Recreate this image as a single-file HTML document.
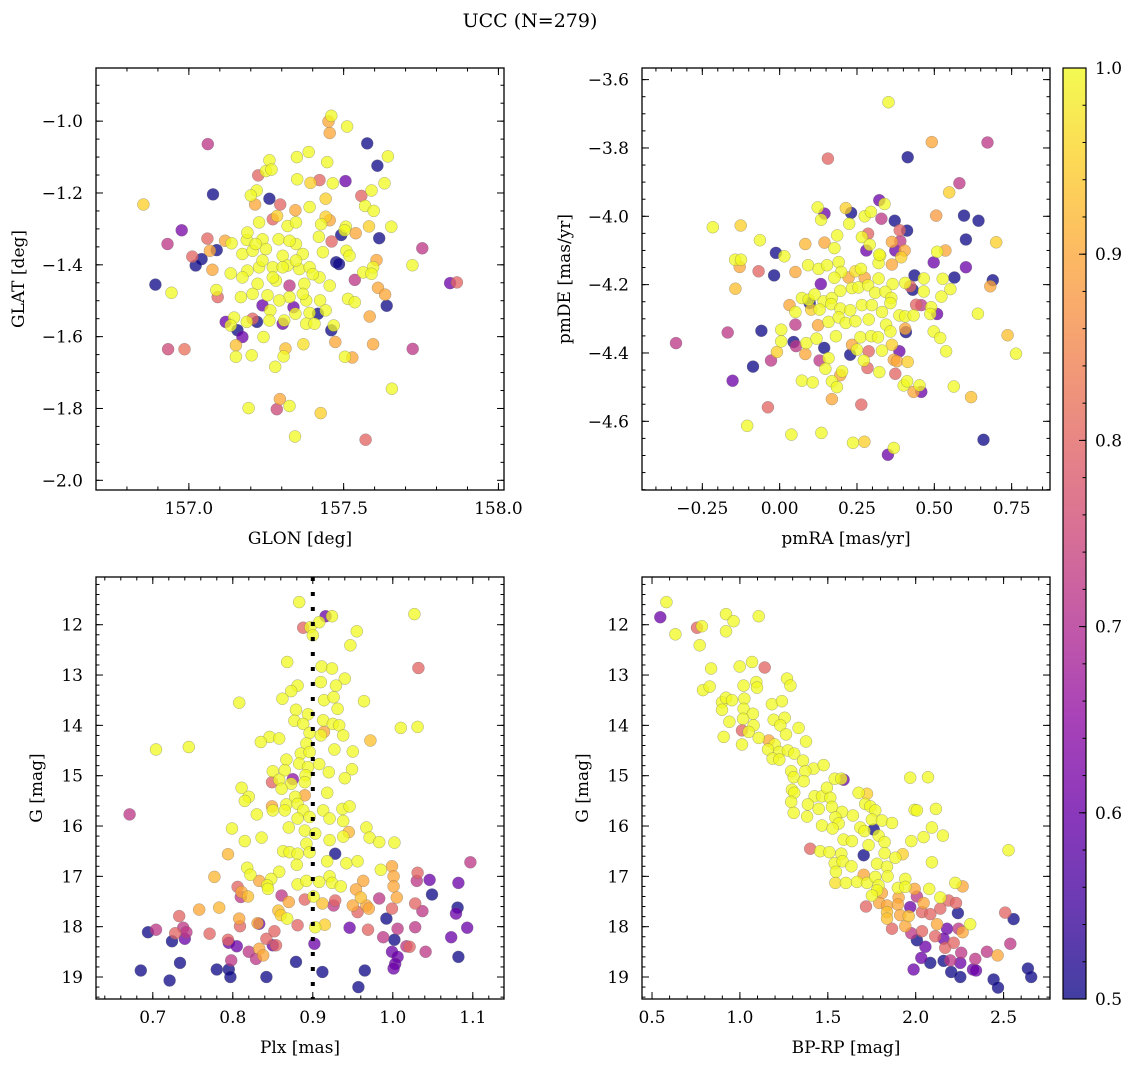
<!DOCTYPE html>
<html><head><meta charset="utf-8"><style>
body{margin:0;background:#fff}
svg{display:block;font-family:"DejaVu Serif","Liberation Serif",serif}
</style></head><body>
<svg id="fig" width="1136" height="1067" viewBox="0 0 1136 1067" xmlns="http://www.w3.org/2000/svg">
<defs><linearGradient id="plasma" x1="0" y1="1" x2="0" y2="0">
<stop offset="0" stop-color="#0d0887"/><stop offset="0.1" stop-color="#41049d"/><stop offset="0.2" stop-color="#6a00a8"/><stop offset="0.3" stop-color="#8f0da4"/><stop offset="0.4" stop-color="#b12a90"/><stop offset="0.5" stop-color="#cc4778"/><stop offset="0.6" stop-color="#e16462"/><stop offset="0.7" stop-color="#f2844b"/><stop offset="0.8" stop-color="#fca636"/><stop offset="0.9" stop-color="#fcce25"/><stop offset="1" stop-color="#f0f921"/>
</linearGradient></defs>
<text x="530" y="27" font-size="19" text-anchor="middle">UCC (N=279)</text>
</svg>
<script>
// ---- data: [x, y, membership probability] ----
const posStars=[[157.460,-0.985,1],[157.451,-1.001,.9],[157.455,-1.033,.9],[157.511,-1.015,1],[157.576,-1.062,.5],[157.061,-1.064,.72],[157.609,-1.124,.5],[157.643,-1.098,1],[157.260,-1.109,1],[157.349,-1.100,1],[157.387,-1.086,1],[157.447,-1.114,1],[157.224,-1.151,.8],[157.249,-1.139,1],[157.267,-1.135,1],[157.350,-1.162,1],[157.393,-1.172,.95],[157.422,-1.164,.8],[157.465,-1.173,1],[157.506,-1.167,.6],[157.632,-1.173,1],[157.078,-1.204,.5],[156.853,-1.232,.95],[157.219,-1.193,1],[157.200,-1.207,1],[157.260,-1.216,.5],[157.295,-1.232,.8],[157.214,-1.232,.9],[157.344,-1.248,.9],[157.390,-1.239,1],[157.442,-1.216,.95],[157.557,-1.208,.8],[157.590,-1.193,1],[157.569,-1.236,1],[157.597,-1.250,1],[157.285,-1.264,.95],[157.442,-1.266,.95],[157.455,-1.276,.9],[157.227,-1.282,1],[157.319,-1.292,1],[157.346,-1.282,1],[157.271,-1.273,.8],[157.427,-1.287,1],[157.507,-1.294,1],[157.582,-1.293,.95],[157.654,-1.294,1],[156.977,-1.304,.62],[156.931,-1.342,.72],[157.060,-1.327,.8],[157.117,-1.333,.9],[157.138,-1.340,1],[157.187,-1.331,1],[157.238,-1.329,1],[157.189,-1.310,1],[157.290,-1.329,1],[157.346,-1.342,1],[157.420,-1.322,1],[157.492,-1.317,.5],[157.461,-1.335,.8],[157.539,-1.312,.9],[157.503,-1.304,1],[157.615,-1.326,.5],[157.754,-1.354,.72],[157.090,-1.359,.5],[157.068,-1.361,.9],[157.011,-1.377,.8],[157.041,-1.384,.5],[157.022,-1.402,.5],[157.173,-1.370,1],[157.206,-1.361,1],[157.249,-1.356,1],[157.303,-1.375,1],[157.368,-1.370,1],[157.433,-1.365,1],[157.476,-1.393,.5],[157.485,-1.398,.5],[157.509,-1.361,1],[157.519,-1.375,1],[157.606,-1.387,.9],[157.595,-1.407,1],[157.722,-1.401,1],[157.076,-1.414,.9],[157.135,-1.424,1],[157.189,-1.416,1],[157.227,-1.407,1],[157.271,-1.407,1],[157.319,-1.402,1],[157.357,-1.412,1],[157.390,-1.407,1],[157.422,-1.435,1],[157.563,-1.421,1],[157.590,-1.425,1],[156.892,-1.455,.5],[156.944,-1.478,1],[157.536,-1.442,.72],[157.844,-1.451,.6],[157.866,-1.449,.8],[157.173,-1.435,1],[157.222,-1.453,1],[157.281,-1.444,1],[157.325,-1.458,.72],[157.373,-1.453,1],[157.455,-1.458,1],[157.611,-1.464,.9],[157.634,-1.483,.9],[157.089,-1.470,1],[157.093,-1.490,.8],[157.168,-1.490,1],[157.206,-1.481,1],[157.254,-1.485,1],[157.325,-1.490,1],[157.379,-1.499,1],[157.424,-1.499,1],[157.514,-1.495,1],[157.536,-1.504,1],[157.639,-1.514,.5],[157.238,-1.513,.6],[157.263,-1.527,1],[157.338,-1.518,.6],[157.344,-1.536,1],[157.390,-1.534,1],[157.417,-1.536,.5],[157.442,-1.527,1],[157.584,-1.544,.9],[157.119,-1.559,.6],[157.146,-1.547,1],[157.135,-1.569,1],[157.157,-1.582,.5],[157.173,-1.601,.6],[157.187,-1.559,1],[157.206,-1.550,.8],[157.220,-1.559,.5],[157.260,-1.555,1],[157.303,-1.564,.6],[157.308,-1.555,1],[157.379,-1.564,1],[157.406,-1.564,1],[157.460,-1.582,.5],[157.468,-1.569,1],[157.241,-1.601,1],[157.152,-1.624,.93],[157.152,-1.656,1],[157.203,-1.652,1],[157.312,-1.633,.93],[157.306,-1.655,1],[157.370,-1.621,.97],[157.473,-1.615,.9],[157.595,-1.621,.9],[157.504,-1.656,1],[157.528,-1.658,.9],[156.933,-1.635,.75],[156.986,-1.635,.82],[157.723,-1.634,.72],[157.279,-1.684,1],[157.656,-1.745,1],[157.294,-1.774,.9],[157.284,-1.802,.75],[157.325,-1.793,1],[157.193,-1.799,1],[157.426,-1.813,.95],[157.343,-1.878,1],[157.571,-1.887,.8],[157.303,-1.407,1],[157.346,-1.388,1],[157.271,-1.435,1],[157.400,-1.426,1],[157.238,-1.388,1],[157.368,-1.481,1],[157.292,-1.499,1],[157.216,-1.342,1],[157.325,-1.333,1]];
const pmStars=[[0.352,-3.666,1],[0.492,-3.783,.9],[0.672,-3.784,.72],[0.414,-3.827,.5],[0.156,-3.831,.8],[0.581,-3.903,.72],[0.548,-3.930,.95],[0.322,-3.953,.6],[0.339,-3.964,1],[0.123,-3.974,1],[0.145,-3.992,.6],[0.214,-3.976,.95],[0.231,-3.990,.5],[0.225,-4.022,1],[0.134,-4.010,1],[0.275,-4.000,1],[0.295,-3.987,1],[0.329,-4.007,.72],[0.372,-4.013,.5],[0.412,-4.042,.5],[0.388,-4.041,.8],[0.506,-3.998,.88],[0.596,-3.998,.5],[0.643,-4.013,.5],[0.602,-4.068,.5],[0.700,-4.076,.95],[-0.216,-4.032,1],[-0.126,-4.027,.95],[-0.064,-4.070,1],[0.083,-4.081,.92],[0.145,-4.077,.9],[0.177,-4.093,1],[0.186,-4.056,1],[0.266,-4.061,1],[0.286,-4.051,.8],[0.291,-4.083,1],[0.280,-4.100,.6],[0.363,-4.075,.9],[0.390,-4.073,.72],[0.404,-4.100,.9],[0.374,-4.100,.6],[0.325,-4.115,1],[0.393,-4.120,.95],[0.363,-4.141,.9],[0.509,-4.104,1],[0.536,-4.100,.9],[0.498,-4.135,.6],[0.602,-4.149,.6],[0.565,-4.179,.5],[0.689,-4.187,.5],[0.681,-4.205,.9],[0.641,-4.285,1],[0.737,-4.348,.93],[0.764,-4.402,1],[-0.012,-4.107,.5],[0.015,-4.117,1],[-0.144,-4.127,1],[-0.125,-4.127,1],[-0.129,-4.148,.9],[-0.068,-4.161,.8],[-0.018,-4.173,.5],[0.051,-4.163,.9],[0.092,-4.143,1],[0.126,-4.154,1],[0.153,-4.143,1],[0.191,-4.134,1],[0.199,-4.163,1],[0.245,-4.161,.97],[0.263,-4.154,1],[0.320,-4.137,1],[0.322,-4.112,1],[-0.143,-4.212,.93],[0.133,-4.198,.6],[0.177,-4.180,1],[0.223,-4.179,.9],[0.275,-4.180,.9],[0.320,-4.182,1],[0.365,-4.198,1],[0.406,-4.195,1],[0.436,-4.173,.5],[0.466,-4.182,1],[0.527,-4.183,1],[0.552,-4.213,1],[0.523,-4.235,1],[0.466,-4.220,1],[0.430,-4.215,.5],[0.422,-4.205,.8],[0.072,-4.239,1],[0.094,-4.244,1],[0.113,-4.229,1],[0.142,-4.249,1],[0.169,-4.239,1],[0.196,-4.218,1],[0.234,-4.210,1],[0.255,-4.208,1],[0.286,-4.202,1],[0.309,-4.224,1],[0.342,-4.221,1],[0.361,-4.239,1],[0.032,-4.260,.9],[0.051,-4.280,1],[0.097,-4.254,.5],[0.102,-4.273,.95],[0.129,-4.273,1],[0.167,-4.257,1],[0.196,-4.270,1],[0.228,-4.275,1],[0.266,-4.260,1],[0.298,-4.260,1],[0.331,-4.280,1],[0.358,-4.254,1],[0.441,-4.259,.8],[0.458,-4.260,.72],[0.490,-4.266,1],[0.509,-4.286,.6],[0.487,-4.286,1],[0.387,-4.290,1],[0.406,-4.293,1],[0.433,-4.290,1],[-0.168,-4.340,.72],[-0.335,-4.371,.72],[-0.059,-4.335,.5],[0.005,-4.332,1],[0.051,-4.317,.72],[0.124,-4.319,.9],[0.158,-4.309,1],[0.191,-4.296,1],[0.214,-4.312,1],[0.245,-4.307,1],[0.288,-4.302,1],[0.344,-4.317,1],[0.358,-4.337,1],[0.408,-4.339,.5],[0.406,-4.329,.9],[0.498,-4.337,1],[0.519,-4.356,1],[0.005,-4.366,1],[0.045,-4.368,.5],[0.053,-4.380,.72],[0.086,-4.371,1],[0.119,-4.358,1],[0.083,-4.403,.9],[-0.009,-4.397,.95],[0.144,-4.385,.5],[0.182,-4.351,1],[0.234,-4.376,.9],[0.261,-4.354,1],[0.296,-4.351,1],[0.318,-4.354,1],[0.363,-4.376,.95],[0.387,-4.395,.6],[0.158,-4.415,1],[0.228,-4.405,.5],[0.250,-4.390,1],[0.288,-4.395,.8],[0.331,-4.393,1],[0.272,-4.422,1],[0.369,-4.420,.9],[0.379,-4.424,.9],[0.414,-4.426,.95],[0.538,-4.395,1],[-0.086,-4.440,.5],[-0.028,-4.422,.72],[0.129,-4.422,.72],[0.148,-4.446,1],[0.202,-4.454,1],[0.284,-4.444,.8],[0.322,-4.456,1],[0.374,-4.461,.8],[-0.152,-4.481,.6],[0.072,-4.481,1],[0.107,-4.486,1],[0.169,-4.483,1],[0.185,-4.500,1],[0.196,-4.465,.9],[0.401,-4.495,1],[0.412,-4.483,1],[0.433,-4.514,.9],[0.458,-4.514,.6],[0.452,-4.495,1],[0.563,-4.498,1],[0.619,-4.529,.93],[0.169,-4.535,.9],[0.264,-4.551,.8],[-0.038,-4.559,.8],[-0.105,-4.613,1],[0.038,-4.639,1],[0.135,-4.634,1],[0.237,-4.663,1],[0.274,-4.660,.95],[0.369,-4.678,1],[0.350,-4.698,.6],[0.659,-4.654,.5]];
const plxStars=[[0.883,11.55,1],[1.027,11.79,1],[0.916,11.83,.6],[0.924,11.83,1],[0.888,12.06,.8],[0.897,12.05,1],[0.908,11.95,1],[0.900,12.21,1],[0.955,12.13,1],[0.947,12.41,1],[1.032,12.86,.8],[0.868,12.74,1],[0.911,12.83,1],[0.924,12.87,1],[0.940,13.07,1],[0.910,13.14,1],[0.929,13.21,1],[0.881,13.21,1],[0.873,13.32,1],[0.862,13.47,1],[0.808,13.55,1],[0.914,13.50,1],[0.926,13.44,1],[0.964,13.52,1],[0.931,13.67,1],[0.879,13.69,1],[0.894,13.78,1],[0.877,13.91,1],[0.888,13.97,1],[0.913,13.90,1],[0.925,13.97,1],[0.933,14.00,1],[1.010,14.05,1],[1.031,14.03,1],[0.896,14.15,1],[0.914,14.13,.9],[0.910,14.20,1],[0.938,14.20,1],[0.846,14.23,1],[0.858,14.26,1],[0.835,14.33,1],[0.972,14.30,.93],[0.704,14.48,1],[0.745,14.43,1],[0.892,14.36,1],[0.927,14.48,1],[0.950,14.52,1],[0.885,14.56,1],[0.896,14.53,1],[0.867,14.68,1],[0.883,14.76,1],[0.894,14.83,1],[0.908,14.77,1],[0.920,14.93,1],[0.949,14.87,1],[0.850,14.91,1],[0.865,14.89,1],[0.891,14.99,1],[0.940,15.05,1],[0.858,15.08,1],[0.875,15.07,.65],[0.849,15.13,.8],[0.873,15.16,1],[0.890,15.13,1],[0.811,15.24,1],[0.861,15.26,1],[0.918,15.34,1],[0.820,15.42,1],[0.815,15.50,1],[0.878,15.42,1],[0.890,15.39,.9],[0.867,15.57,1],[0.881,15.56,1],[0.849,15.61,.9],[0.850,15.69,1],[0.865,15.69,1],[0.888,15.69,1],[0.913,15.69,1],[0.937,15.66,1],[0.946,15.61,1],[0.671,15.77,.72],[0.830,15.77,1],[0.881,15.85,1],[0.896,15.82,1],[0.921,15.85,1],[0.938,15.90,1],[0.870,16.03,1],[0.799,16.05,1],[0.890,16.09,1],[0.903,16.15,1],[0.945,16.12,.92],[0.938,16.21,1],[0.967,16.03,1],[0.971,16.23,1],[0.836,16.23,1],[0.815,16.30,1],[0.983,16.32,1],[1.002,16.33,1],[0.892,16.35,1],[0.921,16.28,1],[0.928,16.55,.5],[0.863,16.50,1],[0.871,16.52,1],[0.881,16.55,1],[0.794,16.56,.92],[0.896,16.52,1],[0.918,16.70,1],[0.942,16.74,1],[0.956,16.70,1],[0.880,16.77,1],[0.818,16.83,1],[0.822,16.97,1],[0.858,16.91,1],[0.985,16.87,1],[0.999,16.80,.9],[1.001,17.00,.9],[0.777,17.01,.92],[0.833,17.09,.9],[0.848,17.05,1],[0.843,17.18,1],[0.844,17.25,1],[0.881,17.16,1],[0.892,17.09,1],[0.908,17.11,1],[0.921,17.00,1],[0.924,17.13,1],[0.935,17.20,1],[0.963,17.09,.9],[1.031,16.93,.8],[1.030,17.09,.72],[1.046,17.07,.6],[1.082,17.13,.6],[1.097,16.72,.72],[1.001,17.20,.9],[0.806,17.21,.8],[0.811,17.31,.9],[0.819,17.40,.93],[0.810,17.41,.72],[0.861,17.38,.72],[0.890,17.46,.8],[0.901,17.40,1],[0.912,17.54,.93],[0.928,17.48,.8],[0.926,17.58,.72],[0.954,17.26,.9],[0.960,17.42,.93],[0.950,17.58,.9],[0.956,17.71,.8],[0.967,17.58,.9],[0.970,17.64,.9],[0.983,17.44,.72],[1.005,17.42,.9],[0.999,17.64,.8],[1.028,17.54,.8],[1.037,17.69,.72],[1.049,17.36,.5],[1.081,17.62,.5],[1.079,17.74,.6],[0.870,17.51,.9],[0.857,17.68,.93],[0.860,17.77,.95],[0.868,17.84,1],[0.758,17.66,.9],[0.783,17.62,.92],[0.733,17.79,.8],[0.808,17.84,.9],[0.809,17.99,.8],[0.831,17.93,.9],[0.833,17.94,.6],[0.903,18.01,1],[0.915,17.96,.95],[0.881,17.97,.8],[0.992,17.84,.5],[0.704,18.06,.72],[0.694,18.11,.5],[0.728,18.13,.8],[0.738,18.02,.72],[0.742,18.11,.72],[0.740,18.24,.6],[0.724,18.29,.5],[0.771,18.14,.8],[0.794,18.26,.8],[0.795,18.32,.6],[0.805,18.39,.6],[0.842,18.24,.8],[0.852,18.09,.8],[0.850,18.37,.6],[0.854,18.37,.8],[0.833,18.44,.9],[0.838,18.57,.9],[0.820,18.50,.72],[0.829,18.64,.72],[0.798,18.67,.72],[0.902,18.34,.6],[0.946,18.02,.6],[0.969,18.06,.8],[0.988,18.21,.72],[1.002,18.26,.5],[1.006,18.04,.72],[1.017,18.39,.72],[1.021,18.40,.8],[1.028,18.01,.72],[1.041,18.50,.72],[1.073,18.21,.6],[1.093,18.02,.6],[0.999,18.50,.6],[1.006,18.60,.6],[1.003,18.74,.6],[1.001,18.83,.6],[1.082,18.60,.5],[0.685,18.87,.5],[0.721,19.07,.5],[0.734,18.72,.5],[0.780,18.85,.5],[0.795,18.85,.5],[0.797,19.00,.5],[0.842,19.00,.5],[0.879,18.70,.5],[0.912,18.90,.5],[0.965,18.87,.5],[0.957,19.20,.5]];
const cmdStars=[[0.547,11.85,.6],[0.582,11.55,1],[0.633,12.19,1],[0.756,12.06,.8],[0.784,12.03,1],[0.771,12.41,1],[0.921,11.79,1],[0.964,11.93,1],[0.921,12.13,1],[1.107,11.83,1],[0.836,12.87,1],[0.999,12.83,1],[1.069,12.74,1],[1.141,12.85,.8],[0.790,13.30,1],[0.828,13.23,1],[1.021,13.21,1],[1.093,13.14,1],[1.097,13.25,1],[1.268,13.07,1],[1.287,13.21,1],[0.898,13.54,1],[0.921,13.45,1],[0.955,13.50,1],[1.025,13.47,1],[1.182,13.58,1],[1.239,13.52,1],[0.898,13.69,1],[1.021,13.67,1],[1.074,13.77,1],[0.940,13.93,1],[1.018,13.87,1],[1.078,14.00,1],[1.192,13.89,1],[1.255,13.85,1],[1.230,14.00,1],[1.334,14.05,1],[1.012,14.10,.8],[1.050,14.13,1],[0.908,14.23,1],[1.107,14.25,1],[1.262,14.18,1],[1.012,14.38,1],[1.164,14.30,.9],[1.198,14.38,1],[1.376,14.32,1],[1.160,14.48,1],[1.224,14.53,1],[1.273,14.50,1],[1.309,14.56,1],[1.186,14.66,1],[1.224,14.68,1],[1.359,14.70,1],[1.419,14.86,1],[1.476,14.79,1],[1.292,14.91,1],[1.372,14.91,1],[1.306,15.03,1],[1.363,15.11,1],[1.539,15.06,1],[1.590,15.08,.6],[1.577,15.06,1],[1.969,15.04,1],[2.070,15.03,1],[1.296,15.28,1],[1.309,15.34,1],[1.425,15.41,1],[1.467,15.41,1],[1.495,15.24,1],[1.514,15.44,1],[1.675,15.34,1],[1.723,15.36,.95],[1.292,15.52,1],[1.387,15.57,1],[1.448,15.66,1],[1.524,15.62,1],[1.581,15.72,1],[1.643,15.79,1],[1.713,15.56,1],[1.742,15.61,1],[1.770,15.69,1],[1.994,15.68,1],[2.115,15.66,1],[2.007,15.69,1],[1.306,15.74,1],[1.382,15.81,1],[1.543,15.83,1],[1.562,15.95,1],[1.751,15.87,1],[1.808,15.89,1],[1.865,15.94,1],[1.467,15.99,1],[1.527,16.05,1],[1.685,16.03,1],[1.709,16.10,1],[1.761,16.07,.5],[1.789,16.19,1],[2.092,16.03,1],[2.155,16.19,1],[2.045,16.22,1],[1.975,16.30,1],[1.590,16.27,1],[1.637,16.30,1],[1.823,16.32,1],[1.732,16.38,1],[1.400,16.45,.8],[1.457,16.50,1],[1.509,16.52,1],[1.577,16.55,1],[1.704,16.58,.5],[1.823,16.54,1],[1.884,16.63,1],[1.926,16.56,.95],[2.528,16.48,1],[1.539,16.74,1],[1.584,16.70,1],[1.634,16.80,1],[1.780,16.75,1],[1.837,16.81,1],[2.092,16.72,1],[1.546,16.91,1],[1.543,17.13,.97],[1.603,17.13,1],[1.666,17.11,1],[1.704,16.97,.9],[1.723,17.13,1],[1.770,17.01,1],[1.789,17.18,1],[1.840,17.00,1],[1.780,17.28,1],[1.899,17.23,1],[1.941,17.05,1],[1.941,17.21,1],[1.994,17.25,.9],[2.077,17.25,1],[2.225,17.13,1],[2.267,17.20,.9],[1.751,17.38,1],[1.808,17.33,.9],[1.903,17.42,.9],[2.007,17.40,.72],[2.140,17.42,1],[2.187,17.48,.8],[1.717,17.60,.8],[1.793,17.53,.9],[1.837,17.58,.9],[1.899,17.56,.9],[1.969,17.61,.6],[2.045,17.53,.9],[2.140,17.64,.8],[2.229,17.53,.8],[1.837,17.71,.93],[1.837,17.84,.93],[1.912,17.77,.9],[1.960,17.79,.93],[2.036,17.71,.8],[2.083,17.75,.8],[2.240,17.73,.5],[2.509,17.72,.8],[2.557,17.85,.5],[2.310,17.95,1],[1.865,18.04,.8],[1.941,17.99,.9],[1.975,18.13,.72],[2.036,18.09,.8],[2.121,17.95,.9],[2.178,18.04,.6],[2.244,18.04,.72],[2.267,18.11,.9],[2.007,18.27,.5],[2.055,18.40,.6],[2.111,18.19,.8],[2.159,18.24,.6],[2.168,18.42,.8],[2.216,18.32,.8],[2.259,18.52,.72],[2.538,18.34,.72],[2.405,18.50,.72],[2.466,18.57,.9],[2.339,18.64,.72],[2.032,18.62,.6],[2.083,18.72,.5],[2.159,18.68,.5],[2.197,18.67,.72],[2.254,18.72,.6],[1.988,18.85,.6],[2.202,18.90,.5],[2.326,18.85,.6],[2.343,18.87,.6],[2.254,19.00,.5],[2.443,19.05,.5],[2.468,19.21,.5],[2.638,18.83,.5],[2.657,19.00,.5]];
// tick labels
const glonTicks=[157.0,157.5,158.0];
const glatTicks=[-1.0,-1.2,-1.4,-1.6,-1.8,-2.0];
const pmraTicks=[-0.25,0.00,0.25,0.50,0.75];
const pmdeTicks=[-3.6,-3.8,-4.0,-4.2,-4.4,-4.6];
const plxTicks=[0.7,0.8,0.9,1.0,1.1];
const gTicks=[12,13,14,15,16,17,18,19];
const bprpTicks=[0.5,1.0,1.5,2.0,2.5];
const cbarTicks=[0.5,0.6,0.7,0.8,0.9,1.0];
const plxRef=[0.9];

const NS="http://www.w3.org/2000/svg";
const svg=document.getElementById('fig');
function el(t,a,p){const e=document.createElementNS(NS,t);for(const k in a)e.setAttribute(k,a[k]);(p||svg).appendChild(e);return e;}
const stops=[[13,8,135],[65,4,157],[106,0,168],[143,13,164],[177,42,144],[204,71,120],[225,100,98],[242,132,75],[252,166,54],[252,206,37],[240,249,33]];
function plasma(t){t=Math.max(0,Math.min(1,t))*10;const i=Math.min(9,Math.floor(t)),f=t-i;const a=stops[i],b=stops[i+1];return 'rgb('+a.map((v,k)=>Math.round(v+(b[k]-v)*f)).join(',')+')';}
const fmtMinus=s=>s.replace('-','\u2212');

function panel(cfg){
  const [x0,y0,x1,y1]=cfg.box;
  const g=el('g',{});
  
  
  const sx=v=>x0+(v-cfg.xd[0])/(cfg.xd[1]-cfg.xd[0])*(x1-x0);
  const sy=v=>y0+(v-cfg.yd[0])/(cfg.yd[1]-cfg.yd[0])*(y1-y0);
  const pts=cfg.data.slice().sort((a,b)=>a[2]-b[2]);
  for(const d of pts){
    const c=el('circle',{cx:sx(d[0]).toFixed(1),cy:sy(d[1]).toFixed(1),r:6,fill:plasma((d[2]-0.5)/0.5),'fill-opacity':0.76,stroke:'#666','stroke-opacity':0.55,'stroke-width':0.5},g);
    
    
  }
  if(cfg.vline){for(const v of cfg.vline){const l=el('line',{x1:sx(v),x2:sx(v),y1:y0,y2:y1,stroke:'#000','stroke-width':4,'stroke-dasharray':'4 11'},g);
    
    }}
  const tk=el('g',{stroke:'#000','stroke-width':1},g);
  for(let v=cfg.xm[0];v<=cfg.xm[1]+1e-9;v+=cfg.xm[2]){const X=sx(v);if(X<x0||X>x1)continue;el('line',{x1:X,x2:X,y1:y1,y2:y1-3.5},tk);el('line',{x1:X,x2:X,y1:y0,y2:y0+3.5},tk);}
  for(let v=cfg.ym[0];v<=cfg.ym[1]+1e-9;v+=cfg.ym[2]){const Y=sy(cfg.ysign*v);if(Y<y0||Y>y1)continue;el('line',{x1:x0,x2:x0+3.5,y1:Y,y2:Y},tk);el('line',{x1:x1,x2:x1-3.5,y1:Y,y2:Y},tk);}
  for(const v of cfg.xt){const X=sx(v);el('line',{x1:X,x2:X,y1:y1,y2:y1-7},tk);el('line',{x1:X,x2:X,y1:y0,y2:y0+7},tk);
    const t=el('text',{x:X,y:y1+24,'font-size':17,'text-anchor':'middle'},g);t.textContent=fmtMinus(v.toFixed(cfg.xf));
    
    }
  for(const v of cfg.yt){const Y=sy(v);el('line',{x1:x0,x2:x0+7,y1:Y,y2:Y},tk);el('line',{x1:x1,x2:x1-7,y1:Y,y2:Y},tk);
    const t=el('text',{x:x0-13,y:Y+6,'font-size':17,'text-anchor':'end'},g);t.textContent=fmtMinus(v.toFixed(cfg.yf));
    
    }
  const fr=el('rect',{x:x0,y:y0,width:x1-x0,height:y1-y0,fill:'none',stroke:'#000','stroke-width':1.3},g);
  
  
  const xl=el('text',{x:(x0+x1)/2,y:y1+54,'font-size':17,'text-anchor':'middle'},g);xl.textContent=cfg.xlab;
  
  
  const yl=el('text',{x:cfg.ylx,y:(y0+y1)/2,'font-size':17,'text-anchor':'middle',transform:'rotate(-90 '+cfg.ylx+' '+(y0+y1)/2+')'},g);yl.textContent=cfg.ylab;
  
  
}
panel({name:'panel-glon-glat',box:[96,68,504,490],xd:[156.700,158.018],yd:[-0.852,-2.027],data:posStars,xt:glonTicks,yt:glatTicks,xf:1,yf:1,xm:[156.7,158.0,0.1],ym:[0.9,2.0,0.05],ysign:-1,xlab:'GLON [deg]',ylab:'GLAT [deg]',ylx:24});
panel({name:'panel-pmra-pmde',box:[642,68,1050,490],xd:[-0.445,0.874],yd:[-3.566,-4.801],data:pmStars,xt:pmraTicks,yt:pmdeTicks,xf:2,yf:1,xm:[-0.45,0.85,0.05],ym:[3.6,4.8,0.05],ysign:-1,xlab:'pmRA [mas/yr]',ylab:'pmDE [mas/yr]',ylx:570});
panel({name:'panel-plx-g',box:[96,577,504,999],xd:[0.629,1.139],yd:[11.052,19.437],data:plxStars,xt:plxTicks,yt:gTicks,xf:1,yf:0,xm:[0.64,1.14,0.02],ym:[11.2,19.4,0.2],ysign:1,xlab:'Plx [mas]',ylab:'G [mag]',ylx:42,vline:plxRef});
panel({name:'panel-bprp-g',box:[642,577,1050,999],xd:[0.443,2.764],yd:[11.052,19.437],data:cmdStars,xt:bprpTicks,yt:gTicks,xf:1,yf:0,xm:[0.5,2.7,0.1],ym:[11.2,19.4,0.2],ysign:1,xlab:'BP-RP [mag]',ylab:'G [mag]',ylx:588});
// colorbar
const cb=el('g',{});


const cy=v=>999-(v-0.5)/0.5*(999-68);
const cr=el('rect',{x:1063,y:68,width:23,height:931,fill:'url(#plasma)','fill-opacity':0.78,stroke:'#000','stroke-width':1.2},cb);


for(let v=0.52;v<0.999;v+=0.02){el('line',{x1:1086,x2:1082.5,y1:cy(v),y2:cy(v),stroke:'#000','stroke-width':1},cb);}
for(const v of cbarTicks){el('line',{x1:1086,x2:1079,y1:cy(v),y2:cy(v),stroke:'#000','stroke-width':1},cb);
  const t=el('text',{x:1095,y:cy(v)+6,'font-size':17},cb);t.textContent=v.toFixed(1);
  
  }
</script>
</body></html>
